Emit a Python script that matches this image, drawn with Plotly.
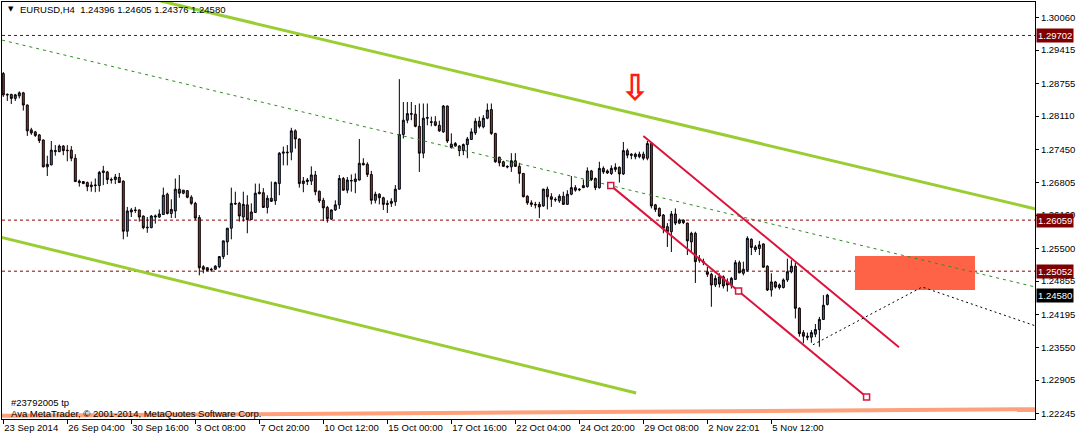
import plotly.graph_objects as go

# ---------------- data (EURUSD, H4) ----------------
opens = [
    1.2895, 1.2854, 1.2854, 1.2846, 1.2851, 1.2857, 1.2833, 1.2784, 1.2780, 1.2774,
    1.2764, 1.2711, 1.2715, 1.2741, 1.2741, 1.2752, 1.2744, 1.2744, 1.2728, 1.2683,
    1.2682, 1.2680, 1.2675, 1.2674, 1.2674, 1.2703, 1.2701, 1.2686, 1.2686, 1.2690,
    1.2683, 1.2584, 1.2622, 1.2626, 1.2626, 1.2614, 1.2592, 1.2591, 1.2612, 1.2612,
    1.2617, 1.2657, 1.2619, 1.2624, 1.2667, 1.2659, 1.2664, 1.2651, 1.2639, 1.2611,
    1.2514, 1.2512, 1.2509, 1.2509, 1.2514, 1.2534, 1.2563, 1.2590, 1.2639, 1.2639,
    1.2612, 1.2636, 1.2607, 1.2621, 1.2658, 1.2660, 1.2631, 1.2649, 1.2644, 1.2678,
    1.2738, 1.2740, 1.2740, 1.2782, 1.2766, 1.2678, 1.2682, 1.2683, 1.2695, 1.2663,
    1.2645, 1.2631, 1.2608, 1.2626, 1.2636, 1.2688, 1.2665, 1.2683, 1.2682, 1.2685,
    1.2718, 1.2716, 1.2696, 1.2645, 1.2657, 1.2650, 1.2639, 1.2639, 1.2642, 1.2667,
    1.2775, 1.2803, 1.2816, 1.2815, 1.2791, 1.2738, 1.2807, 1.2800, 1.2800, 1.2793,
    1.2780, 1.2831, 1.2756, 1.2752, 1.2752, 1.2743, 1.2755, 1.2765, 1.2778, 1.2801,
    1.2790, 1.2807, 1.2824, 1.2777, 1.2730, 1.2721, 1.2712, 1.2711, 1.2723, 1.2712,
    1.2698, 1.2653, 1.2640, 1.2637, 1.2637, 1.2634, 1.2667, 1.2652, 1.2647, 1.2644,
    1.2653, 1.2637, 1.2657, 1.2670, 1.2667, 1.2670, 1.2672, 1.2703, 1.2688, 1.2670,
    1.2708, 1.2703, 1.2698, 1.2706, 1.2710, 1.2697, 1.2743, 1.2736, 1.2731, 1.2731,
    1.2736, 1.2728, 1.2757, 1.2636, 1.2629, 1.2616, 1.2593, 1.2583, 1.2618, 1.2600,
    1.2606, 1.2600, 1.2563, 1.2580, 1.2530, 1.2524, 1.2504, 1.2499, 1.2478, 1.2494,
    1.2494, 1.2484, 1.2478, 1.2489, 1.2522, 1.2501, 1.2507, 1.2568, 1.2548, 1.2550,
    1.2559, 1.2515, 1.2468, 1.2484, 1.2473, 1.2473, 1.2488, 1.2504, 1.2515, 1.2432,
    1.2384, 1.2377, 1.2375, 1.2381, 1.2390, 1.2410, 1.24396,
]
highs = [
    1.2898, 1.2856, 1.2855, 1.2855, 1.2860, 1.2859, 1.2834, 1.2788, 1.2782, 1.2776,
    1.2765, 1.2733, 1.2762, 1.2754, 1.2755, 1.2754, 1.2754, 1.2752, 1.2736, 1.2686,
    1.2683, 1.2682, 1.2682, 1.2688, 1.2703, 1.2713, 1.2703, 1.2690, 1.2697, 1.2699,
    1.2684, 1.2632, 1.2630, 1.2632, 1.2627, 1.2615, 1.2612, 1.2616, 1.2617, 1.2627,
    1.2670, 1.2660, 1.2647, 1.2688, 1.2695, 1.2665, 1.2665, 1.2655, 1.2642, 1.2616,
    1.2517, 1.2513, 1.2512, 1.2517, 1.2535, 1.2565, 1.2590, 1.2670, 1.2662, 1.2642,
    1.2662, 1.2655, 1.2639, 1.2678, 1.2678, 1.2669, 1.2655, 1.2682, 1.2682, 1.2740,
    1.2751, 1.2754, 1.2788, 1.2785, 1.2767, 1.2691, 1.2689, 1.2712, 1.2703, 1.2664,
    1.2650, 1.2634, 1.2627, 1.2645, 1.2695, 1.2691, 1.2691, 1.2696, 1.2698, 1.2766,
    1.2728, 1.2720, 1.2703, 1.2662, 1.2659, 1.2652, 1.2645, 1.2649, 1.2675, 1.2884,
    1.2839, 1.2839, 1.2839, 1.2833, 1.2836, 1.2836, 1.2836, 1.2810, 1.2811, 1.2802,
    1.2833, 1.2832, 1.2777, 1.2760, 1.2754, 1.2757, 1.2770, 1.2787, 1.2807, 1.2810,
    1.2813, 1.2836, 1.2836, 1.2778, 1.2731, 1.2723, 1.2714, 1.2738, 1.2738, 1.2719,
    1.2699, 1.2655, 1.2645, 1.2642, 1.2642, 1.2668, 1.2672, 1.2659, 1.2651, 1.2657,
    1.2662, 1.2665, 1.2693, 1.2675, 1.2669, 1.2686, 1.2710, 1.2705, 1.2690, 1.2721,
    1.2712, 1.2706, 1.2714, 1.2718, 1.2712, 1.2760, 1.2747, 1.2738, 1.2739, 1.2741,
    1.2741, 1.2762, 1.2760, 1.2638, 1.2631, 1.2618, 1.2600, 1.2624, 1.2629, 1.2609,
    1.2607, 1.2601, 1.2583, 1.2583, 1.2537, 1.2530, 1.2514, 1.2502, 1.2497, 1.2501,
    1.2497, 1.2491, 1.2494, 1.2527, 1.2526, 1.2524, 1.2574, 1.2570, 1.2557, 1.2565,
    1.2560, 1.2517, 1.2501, 1.2486, 1.2481, 1.2491, 1.2530, 1.2527, 1.2522, 1.2434,
    1.2389, 1.2384, 1.2389, 1.2401, 1.2415, 1.2458, 1.24605,
]
lows = [
    1.2849, 1.2841, 1.2835, 1.2841, 1.2846, 1.2822, 1.2772, 1.2774, 1.2770, 1.2758,
    1.2710, 1.2693, 1.2714, 1.2733, 1.2740, 1.2734, 1.2722, 1.2722, 1.2681, 1.2672,
    1.2677, 1.2663, 1.2662, 1.2661, 1.2662, 1.2675, 1.2677, 1.2678, 1.2677, 1.2680,
    1.2568, 1.2573, 1.2612, 1.2620, 1.2603, 1.2588, 1.2581, 1.2590, 1.2599, 1.2610,
    1.2616, 1.2617, 1.2610, 1.2610, 1.2650, 1.2657, 1.2649, 1.2636, 1.2606, 1.2497,
    1.2501, 1.2505, 1.2504, 1.2508, 1.2511, 1.2529, 1.2537, 1.2568, 1.2636, 1.2603,
    1.2603, 1.2580, 1.2606, 1.2620, 1.2657, 1.2630, 1.2619, 1.2642, 1.2636, 1.2655,
    1.2714, 1.2714, 1.2724, 1.2747, 1.2670, 1.2661, 1.2675, 1.2675, 1.2655, 1.2640,
    1.2604, 1.2601, 1.2606, 1.2624, 1.2628, 1.2664, 1.2659, 1.2662, 1.2659, 1.2684,
    1.2714, 1.2691, 1.2637, 1.2639, 1.2637, 1.2626, 1.2620, 1.2632, 1.2634, 1.2666,
    1.2767, 1.2797, 1.2803, 1.2789, 1.2701, 1.2728, 1.2793, 1.2791, 1.2791, 1.2780,
    1.2778, 1.2758, 1.2747, 1.2751, 1.2732, 1.2734, 1.2728, 1.2764, 1.2774, 1.2787,
    1.2787, 1.2805, 1.2774, 1.2719, 1.2712, 1.2711, 1.2708, 1.2701, 1.2711, 1.2678,
    1.2651, 1.2636, 1.2632, 1.2629, 1.2610, 1.2632, 1.2627, 1.2632, 1.2642, 1.2640,
    1.2636, 1.2636, 1.2655, 1.2662, 1.2663, 1.2669, 1.2670, 1.2683, 1.2665, 1.2668,
    1.2697, 1.2697, 1.2695, 1.2701, 1.2680, 1.2695, 1.2728, 1.2726, 1.2726, 1.2728,
    1.2724, 1.2724, 1.2629, 1.2622, 1.2612, 1.2580, 1.2553, 1.2543, 1.2596, 1.2598,
    1.2598, 1.2537, 1.2543, 1.2482, 1.2522, 1.2517, 1.2494, 1.2435, 1.2474, 1.2473,
    1.2471, 1.2465, 1.2471, 1.2488, 1.2501, 1.2497, 1.2504, 1.2537, 1.2543, 1.2537,
    1.2512, 1.2466, 1.2455, 1.2471, 1.2469, 1.2471, 1.2484, 1.2501, 1.2412, 1.2376,
    1.2363, 1.2369, 1.2364, 1.2375, 1.2356, 1.2409, 1.24376,
]
closes = [
    1.2853, 1.2853, 1.2846, 1.2853, 1.2857, 1.2833, 1.2782, 1.2778, 1.2773, 1.2763,
    1.2711, 1.2716, 1.2744, 1.2743, 1.2752, 1.2743, 1.2743, 1.2728, 1.2682, 1.2680,
    1.2678, 1.2672, 1.2672, 1.2675, 1.2700, 1.2700, 1.2686, 1.2685, 1.2691, 1.2680,
    1.2584, 1.2624, 1.2626, 1.2625, 1.2612, 1.2591, 1.2591, 1.2614, 1.2614, 1.2618,
    1.2655, 1.2619, 1.2627, 1.2667, 1.2659, 1.2665, 1.2651, 1.2639, 1.2610, 1.2512,
    1.2509, 1.2507, 1.2508, 1.2515, 1.2534, 1.2565, 1.2590, 1.2639, 1.2638, 1.2614,
    1.2637, 1.2607, 1.2622, 1.2659, 1.2661, 1.2631, 1.2649, 1.2643, 1.2680, 1.2738,
    1.2740, 1.2739, 1.2782, 1.2766, 1.2678, 1.2683, 1.2685, 1.2695, 1.2662, 1.2644,
    1.2630, 1.2609, 1.2626, 1.2636, 1.2688, 1.2665, 1.2685, 1.2684, 1.2687, 1.2718,
    1.2715, 1.2696, 1.2645, 1.2657, 1.2650, 1.2637, 1.2637, 1.2643, 1.2667, 1.2775,
    1.2803, 1.2816, 1.2815, 1.2791, 1.2738, 1.2807, 1.2808, 1.2799, 1.2793, 1.2782,
    1.2831, 1.2762, 1.2749, 1.2757, 1.2743, 1.2755, 1.2766, 1.2780, 1.2801, 1.2791,
    1.2807, 1.2823, 1.2777, 1.2721, 1.2719, 1.2712, 1.2711, 1.2723, 1.2712, 1.2698,
    1.2652, 1.2640, 1.2637, 1.2636, 1.2632, 1.2667, 1.2652, 1.2647, 1.2646, 1.2653,
    1.2637, 1.2657, 1.2670, 1.2665, 1.2666, 1.2674, 1.2703, 1.2686, 1.2670, 1.2708,
    1.2701, 1.2699, 1.2708, 1.2710, 1.2697, 1.2743, 1.2734, 1.2734, 1.2736, 1.2736,
    1.2728, 1.2757, 1.2634, 1.2627, 1.2614, 1.2590, 1.2583, 1.2618, 1.2600, 1.2606,
    1.2601, 1.2565, 1.2580, 1.2524, 1.2527, 1.2523, 1.2499, 1.2478, 1.2491, 1.2480,
    1.2476, 1.2478, 1.2491, 1.2522, 1.2502, 1.2509, 1.2570, 1.2552, 1.2553, 1.2557,
    1.2513, 1.2468, 1.2484, 1.2474, 1.2478, 1.2488, 1.2504, 1.2515, 1.2432, 1.2382,
    1.2377, 1.2375, 1.2384, 1.2390, 1.2410, 1.2438, 1.24580,
]
bars = list(range(len(closes)))

time_tick_bars = [0, 16, 32, 48, 64, 80, 96, 112, 128, 144, 160, 176, 192]
time_tick_labels = ["23 Sep 2014", "26 Sep 04:00", "30 Sep 16:00", "3 Oct 08:00",
                    "7 Oct 20:00", "10 Oct 12:00", "15 Oct 00:00", "17 Oct 16:00",
                    "22 Oct 04:00", "24 Oct 20:00", "29 Oct 08:00", "2 Nov 22:01",
                    "5 Nov 12:00"]
price_ticks = [1.30060, 1.29415, 1.28755, 1.28110, 1.27450, 1.26805, 1.26160,
               1.25500, 1.24855, 1.24195, 1.23550, 1.22905, 1.22245]

hline_levels = [1.29702, 1.26059, 1.25052]
last_price = 1.24580

# drawn objects as (bar, price) anchors
green_upper_bars, green_upper_prices = [0, 258], [1.3112, 1.2628]
green_lower_bars, green_lower_prices = [-1, 158.2], [1.2573, 1.2265]
green_dot_bars, green_dot_prices = [-0.3, 258], [1.2961, 1.2474]
red_upper_bars, red_upper_prices = [160, 223.9], [1.2772, 1.2355]
red_lower_bars, red_lower_prices = [151.85, 183.8, 215.8], [1.2674, 1.2466, 1.2257]
zigzag_bars, zigzag_prices = [202.4, 229.7, 258.5], [1.2360, 1.2474, 1.2396]
tp_bars, tp_prices = [-1, 259], [1.2220, 1.2233]
zone_bars, zone_prices = [212.9, 242.9], [1.24681, 1.25351]
arrow_bar, arrow_price = 158, 1.2867

FONT = "Liberation Sans"
FS = 9.5

fig = go.Figure()

fig.add_trace(go.Candlestick(
    x=bars, open=opens, high=highs, low=lows, close=closes,
    increasing=dict(fillcolor="#3F66D8", line=dict(color="black", width=1)),
    decreasing=dict(fillcolor="#E2161B", line=dict(color="black", width=1)),
    whiskerwidth=0, hoverinfo="skip", showlegend=False,
))


def line(xs, ys, color, width, dash="solid"):
    fig.add_trace(go.Scatter(x=xs, y=ys, mode="lines", hoverinfo="skip", showlegend=False,
                             line=dict(color=color, width=width, dash=dash)))


line(green_upper_bars, green_upper_prices, "#9ACD32", 3)
line(green_lower_bars, green_lower_prices, "#9ACD32", 3)
line(green_dot_bars, green_dot_prices, "#2E8B22", 1, "3px,4px")
line(red_upper_bars, red_upper_prices, "#DC143C", 2)
line(red_lower_bars, red_lower_prices, "#DC143C", 2)
line(zigzag_bars, zigzag_prices, "black", 1, "2px,3px")
line(tp_bars, tp_prices, "#FFA07A", 4)

fig.add_trace(go.Scatter(
    x=red_lower_bars, y=red_lower_prices, mode="markers", hoverinfo="skip", showlegend=False,
    marker=dict(symbol="square", size=6, color="white", line=dict(color="#DC143C", width=1.5)),
))

# rectangle zone
fig.add_shape(type="rect", xref="x", yref="y", x0=zone_bars[0], x1=zone_bars[1],
              y0=zone_prices[0], y1=zone_prices[1], fillcolor="#FF6347",
              line=dict(width=0), layer="below")

# horizontal lines
for lvl in hline_levels:
    fig.add_shape(type="line", xref="paper", yref="y", x0=0, x1=1, y0=lvl, y1=lvl,
                  line=dict(color="#8B0000", width=1, dash="3px,3px"), layer="below")

# price-label boxes on right axis
for lvl in hline_levels:
    fig.add_annotation(xref="paper", yref="y", x=1, y=lvl, xanchor="left", yanchor="middle",
                       xshift=1, text=f"{lvl:.5f}", showarrow=False, bgcolor="#800000",
                       borderpad=1, font=dict(family=FONT, size=FS, color="white"))
fig.add_annotation(xref="paper", yref="y", x=1, y=last_price, xanchor="left", yanchor="middle",
                   xshift=1, text=f"{last_price:.5f}", showarrow=False, bgcolor="black",
                   borderpad=1, font=dict(family=FONT, size=FS, color="white"))

# arrow object
fig.add_annotation(x=arrow_bar, y=arrow_price, text="⇩", showarrow=False,
                   font=dict(family="DejaVu Sans", size=36, color="#FF1A1A", weight="bold"))

# title and footer texts
fig.add_annotation(xref="paper", yref="paper", x=0.004, y=0.983, xanchor="left", yanchor="middle",
                   text="▼", showarrow=False, font=dict(family="DejaVu Sans", size=7, color="black"))
fig.add_annotation(xref="paper", yref="paper", x=0.0155, y=0.983, xanchor="left", yanchor="middle",
                   text="EURUSD,H4  1.24396 1.24605 1.24376 1.24580", showarrow=False,
                   font=dict(family=FONT, size=FS, color="black"))
fig.add_annotation(xref="paper", yref="paper", x=0.0065, y=0.040, xanchor="left", yanchor="middle",
                   text="#23792005 tp", showarrow=False, font=dict(family=FONT, size=FS, color="black"))
fig.add_annotation(xref="paper", yref="paper", x=0.0065, y=0.014, xanchor="left", yanchor="middle",
                   text="Ava MetaTrader, © 2001-2014, MetaQuotes Software Corp.", showarrow=False,
                   font=dict(family=FONT, size=FS, color="black"))

fig.update_layout(
    width=1079, height=435,
    margin=dict(l=2, r=44, t=2, b=16, autoexpand=False),
    paper_bgcolor="white", plot_bgcolor="white",
    showlegend=False, boxgap=0.3,
    font=dict(family=FONT, size=FS, color="black"),
    xaxis=dict(range=[-0.325, 257.9], rangeslider=dict(visible=False),
               tickmode="array", tickvals=time_tick_bars, ticktext=time_tick_labels,
               ticks="outside", ticklen=4, tickcolor="black", tickangle=0,
               ticklabelposition="outside right", automargin=False,
               showgrid=False, zeroline=False, showline=True, mirror=True,
               linecolor="black", linewidth=1,
               tickfont=dict(family=FONT, size=FS, color="black")),
    yaxis=dict(range=[1.22136, 1.30362], side="right", automargin=False,
               tickmode="array", tickvals=price_ticks,
               ticktext=[f"{p:.5f}" for p in price_ticks],
               ticks="outside", ticklen=3, tickcolor="black",
               showgrid=False, zeroline=False, showline=True, mirror=True,
               linecolor="black", linewidth=1,
               tickfont=dict(family=FONT, size=FS, color="black")),
)

fig.write_html("out.html", config={"displayModeBar": False},
               post_script="document.body.style.margin='0';")
